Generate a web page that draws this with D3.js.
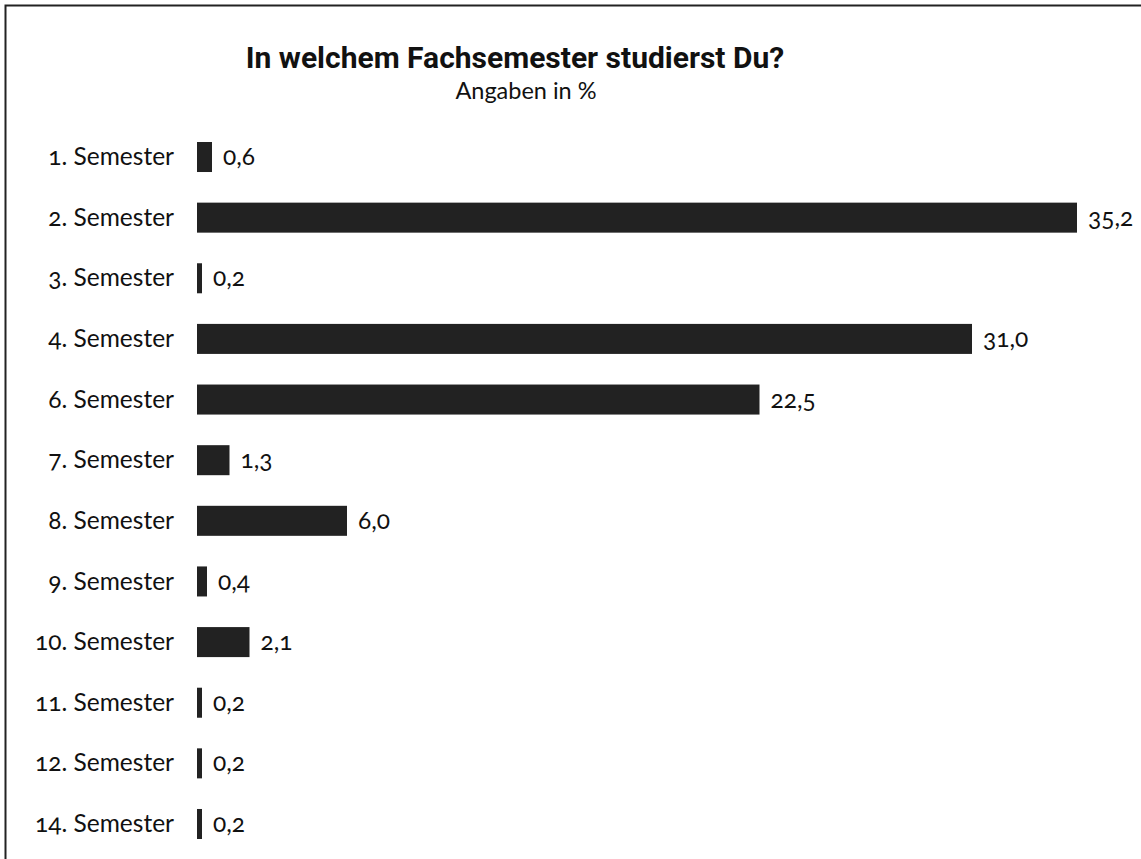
<!DOCTYPE html>
<html>
<head>
<meta charset="utf-8">
<script src="https://cdn.jsdelivr.net/npm/d3@7"></script>
<style>
  body { margin: 0; background: #fff; }
  svg text { font-family: Lato, "Open Sans", sans-serif; font-variant-numeric: oldstyle-nums; fill: #111; }
</style>
</head>
<body>
<div id="chart"></div>
<script>
// In welchem Fachsemester studierst Du? – Angaben in %
const semesters = ["1. Semester", "2. Semester", "3. Semester", "4. Semester", "6. Semester",
  "7. Semester", "8. Semester", "9. Semester", "10. Semester", "11. Semester",
  "12. Semester", "14. Semester"];
const shares = [0.6, 35.2, 0.2, 31.0, 22.5, 1.3, 6.0, 0.4, 2.1, 0.2, 0.2, 0.2];

const width = 1141, height = 859;
const fmt = v => d3.format(".1f")(v).replace(".", ",");

const svg = d3.select("#chart").append("svg")
  .attr("width", width)
  .attr("height", height);

// frame (only top and left edge are inside the picture)
svg.append("rect")
  .attr("x", 5.5).attr("y", 5.5)
  .attr("width", width + 20).attr("height", height + 20)
  .attr("fill", "none")
  .attr("stroke", "#222")
  .attr("stroke-width", 2);

svg.append("text")
  .attr("x", 515).attr("y", 68)
  .attr("text-anchor", "middle")
  .style("font-family", "Roboto, sans-serif")
  .style("font-weight", "bold")
  .style("font-size", "30px")
  .text("In welchem Fachsemester studierst Du?");

svg.append("text")
  .attr("x", 526).attr("y", 99)
  .attr("text-anchor", "middle")
  .style("font-size", "23.5px")
  .text("Angaben in %");

const x = d3.scaleLinear()
  .domain([0, 35.2])
  .range([197, 1077]);

const y = d3.scaleBand()
  .domain(semesters)
  .range([142, 839])
  .paddingInner(0.505)
  .paddingOuter(0);

const yAxisG = svg.append("g")
  .attr("transform", `translate(${x(0) - 23},0)`)
  .call(d3.axisLeft(y).tickSize(0).tickPadding(0));
yAxisG.select(".domain").remove();
yAxisG.selectAll("text")
  .style("font-size", "24.5px")
  .attr("dy", "0.33em")
  .attr("fill", "#111");

const rows = semesters.map((s, i) => ({ s, v: shares[i] }));

svg.append("g").selectAll("rect")
  .data(rows)
  .join("rect")
    .attr("x", x(0))
    .attr("y", d => y(d.s))
    .attr("width", d => x(d.v) - x(0))
    .attr("height", y.bandwidth())
    .attr("fill", "#222");

svg.append("g").selectAll("text")
  .data(rows)
  .join("text")
    .attr("x", d => x(d.v) + 11)
    .attr("y", d => y(d.s) + y.bandwidth() / 2)
    .attr("dy", "0.33em")
    .style("font-size", "24.5px")
    .text(d => fmt(d.v));
</script>
</body>
</html>
